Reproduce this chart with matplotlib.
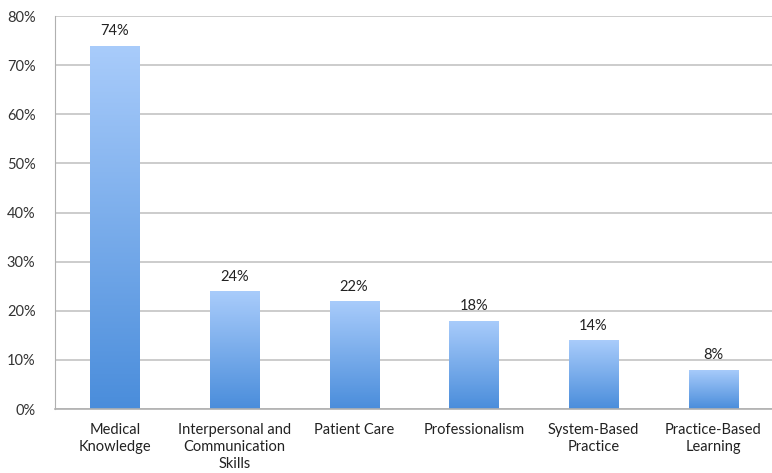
import matplotlib.pyplot as plt
import numpy as np
from matplotlib.colors import LinearSegmentedColormap

categories = ['Medical\nKnowledge', 'Interpersonal and\nCommunication\nSkills',
              'Patient Care', 'Professionalism', 'System-Based\nPractice',
              'Practice-Based\nLearning']
values = [74, 24, 22, 18, 14, 8]
yticks = [0, 10, 20, 30, 40, 50, 60, 70, 80]

plt.rcParams['font.family'] = ['Lato', 'DejaVu Sans']

fig = plt.figure(figsize=(7.72, 4.73), dpi=100)
ax = fig.add_axes([0.0712, 0.1353, 0.93, 0.8307])

x = np.arange(len(values))
bars = ax.bar(x, values, width=0.41, color='none', edgecolor='none', zorder=2)

# vertical gradient inside each bar: light on top, darker at the base
cmap = LinearSegmentedColormap.from_list('bluegrad', ['#4a8ddb', '#a9ccfb'])
grad = np.linspace(0, 1, 256).reshape(-1, 1)
for b in bars:
    x0, y0 = b.get_x(), b.get_y()
    w, h = b.get_width(), b.get_height()
    im = ax.imshow(grad, cmap=cmap, origin='lower', aspect='auto',
                   extent=[x0, x0 + w, y0, y0 + h], zorder=2)
    im.set_clip_path(b)

for xi, v in zip(x, values):
    ax.text(xi, v + 1.5, f'{v}%', ha='center', va='bottom', fontsize=10.5, color='#222222')

ax.set_xlim(-0.5, 5.5)
ax.set_ylim(0, 80)
ax.set_yticks(yticks)
ax.set_yticklabels([f'{t}%' for t in yticks], fontsize=10.5, color='#333333')
ax.set_xticks(x)
ax.set_xticklabels(categories, fontsize=10.5, color='#222222', linespacing=1.28)
ax.tick_params(axis='x', length=0, pad=10)
ax.tick_params(axis='y', length=0, pad=14)

ax.yaxis.grid(True, color='#c4c4c4', linewidth=1.2, zorder=0)
ax.set_axisbelow(True)
for s in ['top', 'right']:
    ax.spines[s].set_visible(False)
ax.spines['left'].set_color('#b0b0b0')
ax.spines['bottom'].set_color('#b0b0b0')
ax.spines['bottom'].set_linewidth(1.2)

plt.savefig('out.png', dpi=100)
